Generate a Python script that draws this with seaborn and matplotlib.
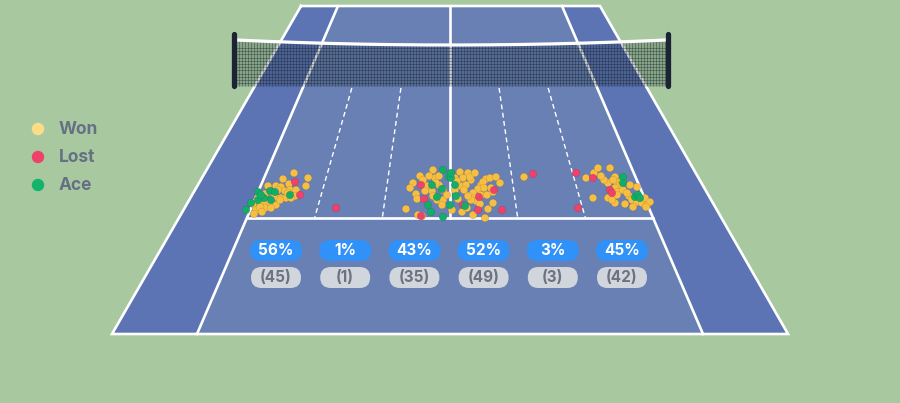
import numpy as np
import pandas as pd
import matplotlib.pyplot as plt
from matplotlib.patches import Polygon, FancyBboxPatch
import seaborn as sns

# Serve landing spots (screen px, y grows down)
won_x = [294, 308, 283, 289, 306, 268, 276, 281, 278, 285, 290, 296, 271, 265, 295, 275, 258,
         281, 286, 253, 261, 266, 270, 276, 265, 271, 256, 254, 260, 280, 291, 288, 262,
         420, 433, 435, 439, 413, 416, 417, 439, 443, 427, 432, 433, 437, 443, 442, 406, 418,
         447, 425, 429, 422, 423, 436, 410,
         460, 468, 463, 471, 461, 466, 486, 490, 496, 481, 478, 491, 473, 474, 476, 471, 488,
         473, 485, 455, 458, 455, 457, 468, 481, 493, 483, 470, 475, 464, 487, 462, 480, 452,
         467, 493, 500, 484,
         524,
         586, 594, 598, 610, 608, 615, 617, 620, 615, 618, 623, 593, 608, 615, 625, 629, 632,
         637, 637, 642, 645, 647, 650, 627, 633, 646, 622, 613, 617, 604, 612, 630, 601]
won_y = [173, 178, 179, 184, 186, 186, 186, 187, 190, 191, 190, 190, 192, 194, 196, 197, 198,
         198, 198, 204, 202, 203, 202, 205, 208, 208, 210, 214, 207, 200, 198, 193, 212,
         176, 170, 178, 176, 183, 194, 199, 185, 190, 186, 191, 196, 200, 200, 205, 209, 215,
         195, 191, 176, 216, 180, 183, 188,
         172, 173, 178, 180, 186, 185, 179, 178, 177, 185, 189, 188, 193, 198, 201, 200, 209,
         215, 218, 190, 199, 178, 181, 196, 195, 192, 182, 177, 173, 190, 195, 212, 204, 210,
         208, 203, 183, 188,
         177,
         178, 173, 168, 168, 183, 177, 182, 185, 188, 192, 190, 198, 198, 203, 204, 196, 200,
         187, 202, 203, 198, 205, 202, 193, 207, 207, 181, 180, 195, 180, 200, 185, 176]

lost_x = [295, 300, 336, 421, 424, 421, 479, 494, 463, 478, 502, 533, 578, 576, 593, 610, 612]
lost_y = [182, 195, 208, 185, 199, 216, 197, 190, 205, 210, 210, 174, 208, 173, 178, 190, 193]

ace_x = [258, 270, 275, 264, 271, 258, 290, 246, 261, 251,
         432, 443, 442, 437, 431, 443, 428, 449,
         451, 455, 456, 450, 465, 451,
         623, 623, 635, 638, 640]
ace_y = [192, 191, 192, 198, 200, 200, 195, 210, 195, 203,
         185, 170, 189, 197, 212, 217, 205, 177,
         178, 185, 196, 205, 206, 173,
         177, 183, 197, 195, 198]

zone_pct = ['56%', '1%', '43%', '52%', '3%', '45%']
zone_count = ['(45)', '(1)', '(35)', '(49)', '(3)', '(42)']
outcomes = ['Won', 'Lost', 'Ace']

BG = '#A8C9A0'
ALLEY = '#5C74B3'
SINGLES = '#6880B3'
LINE = 'white'
dot_colors = {'Won': '#F6BE42', 'Lost': '#F0416A', 'Ace': '#12AE68'}
legend_colors = {'Won': '#FCDD86', 'Lost': '#F0416A', 'Ace': '#12B36A'}

serves = pd.concat([
    pd.DataFrame({'x': won_x, 'y': won_y, 'result': 'Won'}),
    pd.DataFrame({'x': lost_x, 'y': lost_y, 'result': 'Lost'}),
    pd.DataFrame({'x': ace_x, 'y': ace_y, 'result': 'Ace'}),
], ignore_index=True)

plt.rcParams['font.family'] = ['Inter', 'DejaVu Sans']
fig = plt.figure(figsize=(9, 4.03), dpi=100)
fig.patch.set_facecolor(BG)
ax = fig.add_axes([0, 0, 1, 1])
ax.set_facecolor(BG)

# court geometry (perspective trapezoid)
far_y, near_y, service_y, net_y = 6, 334, 218, 88
dbl_far, dbl_near = (301, 600), (112, 788)
sgl_far, sgl_near = (338, 562), (197, 703)
mid = 450


def at(xf, xn, y):
    return xf + (xn - xf) * (y - far_y) / (near_y - far_y)


ax.add_patch(Polygon([(dbl_far[0], far_y), (dbl_far[1], far_y), (dbl_near[1], near_y), (dbl_near[0], near_y)],
                     closed=True, facecolor=ALLEY, edgecolor='none', zorder=1))
ax.add_patch(Polygon([(sgl_far[0], far_y), (sgl_far[1], far_y), (sgl_near[1], near_y), (sgl_near[0], near_y)],
                     closed=True, facecolor=SINGLES, edgecolor='none', zorder=1))

lw = 1.9
ax.plot([dbl_far[0], dbl_far[1], dbl_near[1], dbl_near[0], dbl_far[0]],
        [far_y, far_y, near_y, near_y, far_y], color=LINE, lw=lw, zorder=2, solid_joinstyle='miter')
for i in range(2):
    ax.plot([sgl_far[i], sgl_near[i]], [far_y, near_y], color=LINE, lw=lw, zorder=2)
ax.plot([at(sgl_far[0], sgl_near[0], service_y), at(sgl_far[1], sgl_near[1], service_y)],
        [service_y, service_y], color=LINE, lw=lw, zorder=2)
ax.plot([mid, mid], [far_y, service_y], color=LINE, lw=lw, zorder=2)

# dashed zone dividers (thirds of each service box)
for f in [1 / 3, 2 / 3]:
    for xf, xn in [(sgl_far[0] + (mid - sgl_far[0]) * f, sgl_near[0] + (mid - sgl_near[0]) * f),
                   (mid + (sgl_far[1] - mid) * f, mid + (sgl_near[1] - mid) * f)]:
        ax.plot([at(xf, xn, net_y), at(xf, xn, service_y)], [net_y, service_y],
                color=LINE, lw=1.0, ls=(0, (3.5, 2.5)), zorder=2)

# net
nx0, nx1, n_bot = 236, 666, 86
xs = np.linspace(nx0, nx1, 300)
cable = 40 + 5 * (1 - ((xs - 451) / 215) ** 2)
ax.fill_between(xs, cable, n_bot, color='#14222c', alpha=0.22, lw=0, zorder=3)
vx = np.arange(nx0, nx1 + 0.1, 3.0)
ax.vlines(vx, 40 + 5 * (1 - ((vx - 451) / 215) ** 2), n_bot, color='#15232b', lw=0.45, alpha=0.55, zorder=3)
ax.hlines(np.arange(48, n_bot + 0.1, 3.2), nx0, nx1, color='#15232b', lw=0.45, alpha=0.55, zorder=3)
ax.plot(xs, cable, color='white', lw=2.3, zorder=4)
for px in [234, 668]:
    ax.plot([px, px], [34, 86], color='#1C2334', lw=3.8, solid_capstyle='round', zorder=5)

# serve dots
sns.scatterplot(data=serves, x='x', y='y', hue='result', palette=dot_colors, hue_order=outcomes,
                s=30, edgecolor='#00000022', linewidth=0.4, legend=False, ax=ax, zorder=6)

# zone labels
for i in range(6):
    cx = 449 + 69.2 * (i - 2.5)
    ax.add_patch(FancyBboxPatch((cx - 26, 240), 52, 21, boxstyle='round,pad=0,rounding_size=10.5',
                                facecolor='#3091F9', edgecolor='none', zorder=7))
    ax.text(cx, 250.5, zone_pct[i], color='white', fontsize=11, fontweight='bold',
            ha='center', va='center', zorder=8)
    ax.add_patch(FancyBboxPatch((cx - 25, 267), 50, 21, boxstyle='round,pad=0,rounding_size=10.5',
                                facecolor='#D1D5DC', edgecolor='none', zorder=7))
    ax.text(cx, 277.5, zone_count[i], color='#6B7280', fontsize=11, fontweight='bold',
            ha='center', va='center', zorder=8)

# legend
for k, lab in enumerate(outcomes):
    ly = 129 + 28 * k
    ax.scatter([38], [ly], s=80, color=legend_colors[lab], edgecolor='none', zorder=8)
    ax.text(59, ly, lab, color='#667085', fontsize=12.5, fontweight='bold', va='center', ha='left')

ax.set_xlim(0, 900)
ax.set_ylim(403, 0)
ax.axis('off')
fig.savefig('out.png', dpi=100, facecolor=BG)
